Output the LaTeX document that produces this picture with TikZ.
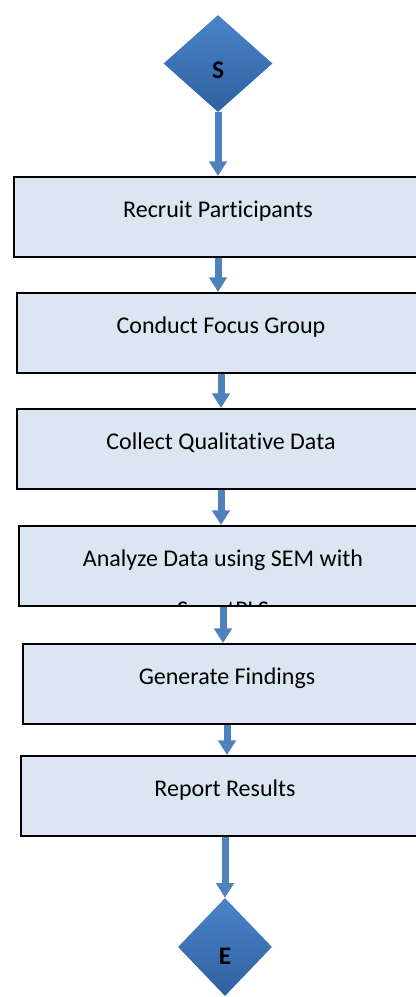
\documentclass[tikz,border=0pt]{standalone}
\usepackage{fontspec}
\setmainfont{Carlito}[Ligatures=NoCommon]
\usepackage{tikz}
\usetikzlibrary{arrows.meta}
\usetikzlibrary{calc,shapes.geometric}
\definecolor{flowblue}{RGB}{79,129,189}
\definecolor{boxfill}{RGB}{220,230,242}
\definecolor{diamtop}{RGB}{74,132,200}
\definecolor{diambot}{RGB}{47,96,160}
\tikzset{
	stepbox/.style={draw=black,line width=1.5pt,fill=boxfill,anchor=north west,minimum width=306pt,minimum height=60pt,text height=30pt,text depth=30pt,inner sep=0pt,font=\fontsize{18}{21}\selectfont},
	term/.style={diamond,top color=diamtop,bottom color=diambot,inner sep=0pt,text depth=0pt,font=\fontsize{19}{22}\selectfont\bfseries},
	flow/.style={draw=flowblue,line width=5.25pt,-{Triangle[width=13pt,length=11pt]}}
}

\begin{document}
\begin{tikzpicture}[x=0.75pt,y=-0.75pt]
			\path[use as bounding box,clip] (0,0) rectangle (416,997);
			\node [term,minimum width=81.75pt,minimum height=72.75pt,text height=22pt] (S) at (218,63.5) {S};
			\node [stepbox] (recruit) at (13,176) {Recruit Participants};
			\node [stepbox] (focus) at (16,292) {Conduct Focus Group};
			\node [stepbox] (collect) at (16,408) {Collect Qualitative Data};
			\node [stepbox,path picture={\node [anchor=base,inner sep=0pt,text height=,text depth=,font=\fontsize{18}{21}\selectfont] at ([yshift=-68.25pt]path picture bounding box.north) {SmartPLS};}] (analyze) at (18,525) {Analyze Data using SEM with};
			\node [stepbox] (findings) at (22,643) {Generate Findings};
			\node [stepbox] (report) at (20,755) {Report Results};
			\node [term,minimum width=70.5pt,minimum height=73.5pt,text height=26.5pt] (E) at (225,947) {E};
			\draw [flow] (S.south) -- (S.south |- recruit.north);
			\draw [flow] (recruit.south) -- (recruit.south |- focus.north);
			\draw [flow] (focus.south) -- (focus.south |- collect.north);
			\draw [flow] (collect.south) -- (collect.south |- analyze.north);
			\draw [flow] (analyze.south) -- (analyze.south |- findings.north);
			\draw [flow] (findings.south) -- (findings.south |- report.north);
			\draw [flow] (report.south) -- (report.south |- E.north);
\end{tikzpicture}
\end{document}
